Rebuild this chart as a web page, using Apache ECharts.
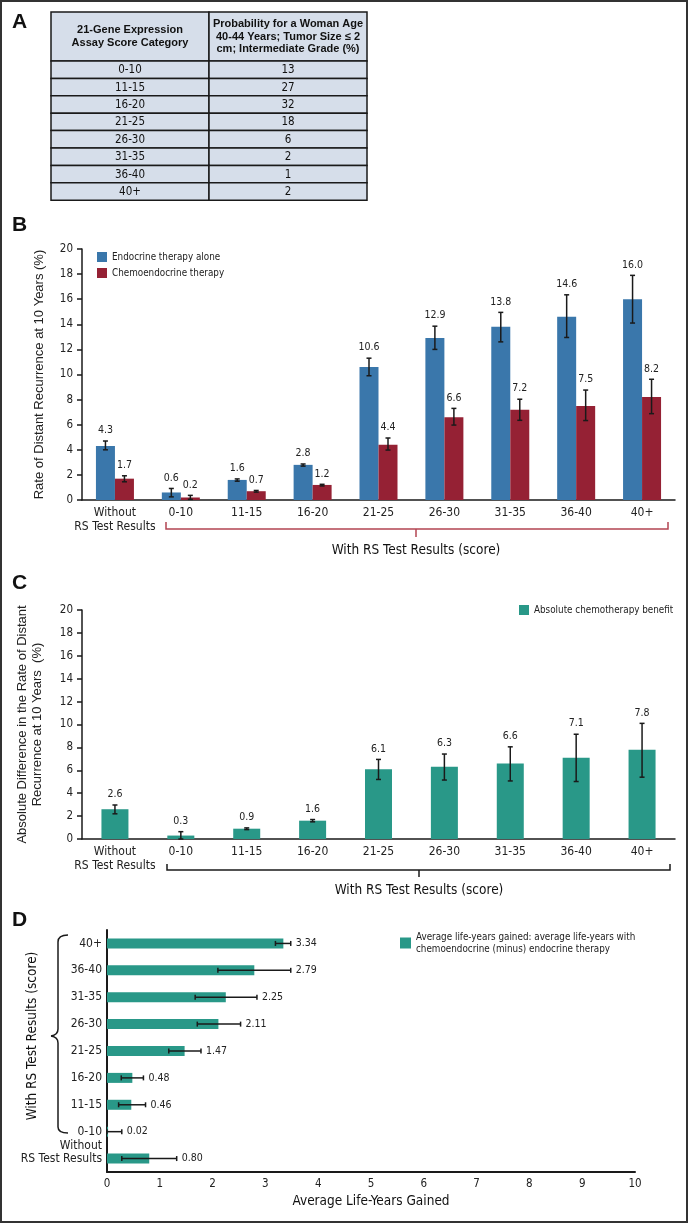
<!DOCTYPE html>
<html><head><meta charset="utf-8">
<script src="https://cdn.jsdelivr.net/npm/echarts@6/dist/echarts.min.js"></script>
<style>html,body{margin:0;padding:0;background:#fff}#c{width:688px;height:1223px}</style>
</head><body><div id="c"></div>
<script>
// ---------- DATA ----------
const tableScoreCategories = ['0-10','11-15','16-20','21-25','26-30','31-35','36-40','40+'];
const tableProbabilities = [13, 27, 32, 18, 6, 2, 1, 2];
const tableHeaderLeft = ['21-Gene Expression', 'Assay Score Category'];
const tableHeaderRight = ['Probability for a Woman Age', '40-44 Years; Tumor Size \u2264 2', 'cm; Intermediate Grade (%)'];

const scoreCategories = ['Without\nRS Test Results','0-10','11-15','16-20','21-25','26-30','31-35','36-40','40+'];

// Panel B
const endocrineRate = [4.3, 0.6, 1.6, 2.8, 10.6, 12.9, 13.8, 14.6, 16.0];
const endocrineLow  = [4.0, 0.25, 1.5, 2.7, 9.9, 12.0, 12.6, 12.95, 14.1];
const endocrineHigh = [4.7, 0.92, 1.68, 2.87, 11.3, 13.85, 14.95, 16.35, 17.9];
const chemoRate = [1.7, 0.2, 0.7, 1.2, 4.4, 6.6, 7.2, 7.5, 8.2];
const chemoLow  = [1.45, 0.05, 0.63, 1.12, 3.98, 5.97, 6.35, 6.33, 6.88];
const chemoHigh = [1.93, 0.37, 0.76, 1.25, 4.94, 7.3, 8.03, 8.76, 9.62];

// Panel C
const benefitRate = [2.6, 0.3, 0.9, 1.6, 6.1, 6.3, 6.6, 7.1, 7.8];
const benefitLow  = [2.2, 0.0, 0.82, 1.5, 5.2, 5.15, 5.07, 5.02, 5.4];
const benefitHigh = [2.97, 0.64, 0.97, 1.7, 6.95, 7.42, 8.05, 9.15, 10.1];

// Panel D (bottom to top)
const lifeYears = [0.80, 0.02, 0.46, 0.48, 1.47, 2.11, 2.25, 2.79, 3.34];
const lifeLow   = [0.28, 0.0, 0.22, 0.27, 1.17, 1.71, 1.67, 2.10, 3.19];
const lifeHigh  = [1.32, 0.28, 0.73, 0.69, 1.78, 2.53, 2.84, 3.48, 3.48];

const seriesNames = {
  endo: 'Endocrine therapy alone',
  chemo: 'Chemoendocrine therapy',
  benefit: 'Absolute chemotherapy benefit',
  life: 'Average life-years gained: average life-years with chemoendocrine (minus) endocrine therapy'
};

// ---------- STYLE ----------
const NARROW = "'DejaVu Sans Condensed','Liberation Sans Narrow',sans-serif";
const SANS = "'Liberation Sans',Arial,Helvetica,sans-serif";
const BLUE = '#3a77ab', RED = '#952134', TEAL = '#299888', INK = '#1a1a1a';
const BRACKET_RED = '#b34452';

const chart = echarts.init(document.getElementById('c'), null, {renderer: 'canvas'});

function errorSeries(name, xi, yi, low, high, vals, offset, horizontal, digits) {
  return {
    type: 'custom', name: name + ' error', xAxisIndex: xi, yAxisIndex: yi, z: 5, silent: true,
    data: vals.map((v, i) => [i, low[i], high[i], v]),
    encode: horizontal ? {x: [1, 2], y: 0} : {x: 0, y: [1, 2]},
    renderItem: function (params, api) {
      const i = api.value(0), lo = api.value(1), hi = api.value(2), v = api.value(3);
      const lw = 1.5, cap = 2.5;
      const txt = v.toFixed(digits);
      if (!horizontal) {
        const pH = api.coord([i, hi]), pL = api.coord([i, lo]);
        const x = pH[0] + offset;
        return {type: 'group', children: [
          {type: 'line', shape: {x1: x, y1: pL[1], x2: x, y2: pH[1]}, style: {stroke: INK, lineWidth: lw}},
          {type: 'line', shape: {x1: x - cap, y1: pH[1], x2: x + cap, y2: pH[1]}, style: {stroke: INK, lineWidth: lw}},
          {type: 'line', shape: {x1: x - cap, y1: pL[1], x2: x + cap, y2: pL[1]}, style: {stroke: INK, lineWidth: lw}},
          {type: 'text', style: {text: txt, x: x, y: pH[1] - 5, align: 'center', verticalAlign: 'bottom',
            fontSize: 10.5, fontFamily: NARROW, fill: '#222'}}
        ]};
      } else {
        const pH = api.coord([hi, i]), pL = api.coord([lo, i]);
        const y = pH[1];
        return {type: 'group', children: [
          {type: 'line', shape: {x1: pL[0], y1: y, x2: pH[0], y2: y}, style: {stroke: INK, lineWidth: lw}},
          {type: 'line', shape: {x1: pH[0], y1: y - cap, x2: pH[0], y2: y + cap}, style: {stroke: INK, lineWidth: lw}},
          {type: 'line', shape: {x1: pL[0], y1: y - cap, x2: pL[0], y2: y + cap}, style: {stroke: INK, lineWidth: lw}},
          {type: 'text', style: {text: txt, x: pH[0] + 5, y: y, align: 'left', verticalAlign: 'middle',
            fontSize: 10.5, fontFamily: NARROW, fill: '#222'}}
        ]};
      }
    }
  };
}

// ---------- TABLE (graphic) ----------
const T = {x0: 51, x1: 209, x2: 367, top: 12, headH: 49, rowH: 17.4};
const tableEls = [];
tableEls.push({type: 'rect', shape: {x: T.x0, y: T.top, width: T.x1 - T.x0, height: T.headH}, style: {fill: '#d6deea', stroke: INK, lineWidth: 1.5}});
tableEls.push({type: 'rect', shape: {x: T.x1, y: T.top, width: T.x2 - T.x1, height: T.headH}, style: {fill: '#d6deea', stroke: INK, lineWidth: 1.5}});
tableHeaderLeft.forEach((t, k) => tableEls.push({type: 'text', style: {text: t, x: (T.x0 + T.x1) / 2, y: T.top + T.headH / 2 + (k - 0.5) * 13,
  align: 'center', verticalAlign: 'middle', fontSize: 11, fontWeight: 'bold', fontFamily: SANS, fill: '#111'}}));
tableHeaderRight.forEach((t, k) => tableEls.push({type: 'text', style: {text: t, x: (T.x1 + T.x2) / 2, y: T.top + T.headH / 2 + (k - 1) * 12.5,
  align: 'center', verticalAlign: 'middle', fontSize: 11, fontWeight: 'bold', fontFamily: SANS, fill: '#111'}}));
tableScoreCategories.forEach((c, i) => {
  const y = T.top + T.headH + i * T.rowH;
  tableEls.push({type: 'rect', shape: {x: T.x0, y: y, width: T.x1 - T.x0, height: T.rowH}, style: {fill: '#d6deea', stroke: INK, lineWidth: 1.5}});
  tableEls.push({type: 'rect', shape: {x: T.x1, y: y, width: T.x2 - T.x1, height: T.rowH}, style: {fill: '#d6deea', stroke: INK, lineWidth: 1.5}});
  tableEls.push({type: 'text', style: {text: c, x: (T.x0 + T.x1) / 2, y: y + T.rowH / 2 + 0.5, align: 'center', verticalAlign: 'middle', fontSize: 11.5, fontFamily: NARROW, fill: '#111'}});
  tableEls.push({type: 'text', style: {text: String(tableProbabilities[i]), x: (T.x1 + T.x2) / 2, y: y + T.rowH / 2 + 0.5, align: 'center', verticalAlign: 'middle', fontSize: 11.5, fontFamily: NARROW, fill: '#111'}});
});

function letter(t, x, y) {
  return {type: 'text', style: {text: t, x: x, y: y, align: 'left', verticalAlign: 'middle', fontSize: 21, fontWeight: 'bold', fontFamily: SANS, fill: '#111'}};
}
function bracket(x1, x2, y, mid, color, up, down) {
  return [
    {type: 'polyline', shape: {points: [[x1, y - up], [x1, y], [x2, y], [x2, y - up]]}, style: {stroke: color, lineWidth: 1.5, fill: null}},
    {type: 'line', shape: {x1: mid, y1: y, x2: mid, y2: y + down}, style: {stroke: color, lineWidth: 1.5}}
  ];
}
const braceStyle = {stroke: INK, lineWidth: 1.5, fill: null};
const brace = [
  {type: 'bezierCurve', shape: {x1: 68, y1: 935, cpx1: 58, cpy1: 935, x2: 58, y2: 942}, style: braceStyle},
  {type: 'line', shape: {x1: 58, y1: 942, x2: 58, y2: 1029}, style: braceStyle},
  {type: 'bezierCurve', shape: {x1: 58, y1: 1029, cpx1: 58, cpy1: 1035, x2: 51, y2: 1036}, style: braceStyle},
  {type: 'bezierCurve', shape: {x1: 51, y1: 1036, cpx1: 58, cpy1: 1037, x2: 58, y2: 1043}, style: braceStyle},
  {type: 'line', shape: {x1: 58, y1: 1043, x2: 58, y2: 1127}, style: braceStyle},
  {type: 'bezierCurve', shape: {x1: 58, y1: 1127, cpx1: 58, cpy1: 1133, x2: 68, y2: 1133}, style: braceStyle}
];

const graphics = [
  {type: 'rect', shape: {x: 1, y: 1, width: 686, height: 1221}, style: {fill: null, stroke: '#333', lineWidth: 2}, z: 100},
  letter('A', 12, 22), letter('B', 12, 225), letter('C', 12, 583), letter('D', 12, 920),
  ...tableEls,
  ...bracket(166, 668, 529, 416, BRACKET_RED, 7, 8),
  {type: 'text', style: {text: 'With RS Test Results (score)', x: 416, y: 550, align: 'center', verticalAlign: 'middle', fontSize: 13.5, fontFamily: NARROW, fill: '#111'}},
  ...bracket(167, 670, 870, 419, INK, 6, 7),
  {type: 'text', style: {text: 'With RS Test Results (score)', x: 419, y: 890, align: 'center', verticalAlign: 'middle', fontSize: 13.5, fontFamily: NARROW, fill: '#111'}},
  ...brace,
  {type: 'text', x: 32, y: 1036, rotation: Math.PI / 2, style: {text: 'With RS Test Results (score)', x: 0, y: 0, align: 'center', verticalAlign: 'middle', fontSize: 13.5, fontFamily: NARROW, fill: '#111'}}
];

const axisLineStyle = {color: INK, width: 1.5};
const catLabel = {fontSize: 12, fontFamily: NARROW, color: '#222', lineHeight: 14, margin: 6, interval: 0};
const valLabel = {fontSize: 11.5, fontFamily: NARROW, color: '#222', margin: 9};
const legendText = {fontSize: 9.8, fontFamily: NARROW, color: '#222'};

const option = {
  animation: false,
  backgroundColor: '#fff',
  grid: [
    {left: 82, right: 13, top: 249, bottom: 1223 - 500},
    {left: 82, right: 13, top: 610, bottom: 1223 - 839},
    {left: 107, right: 53, top: 930, bottom: 1223 - 1172}
  ],
  xAxis: [
    {type: 'category', gridIndex: 0, data: scoreCategories, axisLine: {lineStyle: axisLineStyle}, axisTick: {show: false}, axisLabel: catLabel},
    {type: 'category', gridIndex: 1, data: scoreCategories, axisLine: {lineStyle: axisLineStyle}, axisTick: {show: false}, axisLabel: catLabel},
    {type: 'value', gridIndex: 2, min: 0, max: 10, interval: 1, axisLine: {show: true, lineStyle: {color: INK, width: 2}}, axisTick: {show: false},
      splitLine: {show: false}, axisLabel: {fontSize: 11.5, fontFamily: NARROW, color: '#222', margin: 6},
      name: 'Average Life-Years Gained', nameLocation: 'middle', nameGap: 22,
      nameTextStyle: {fontSize: 13.5, fontFamily: NARROW, color: '#111'}}
  ],
  yAxis: [
    {type: 'value', gridIndex: 0, min: 0, max: 20, interval: 2, axisLine: {show: true, lineStyle: axisLineStyle},
      axisTick: {show: true, length: 5, lineStyle: axisLineStyle}, splitLine: {show: false}, axisLabel: valLabel,
      name: 'Rate of Distant Recurrence at 10 Years (%)', nameLocation: 'middle', nameGap: 36,
      nameTextStyle: {fontSize: 13, fontFamily: SANS, color: '#222'}},
    {type: 'value', gridIndex: 1, min: 0, max: 20, interval: 2, axisLine: {show: true, lineStyle: axisLineStyle},
      axisTick: {show: true, length: 5, lineStyle: axisLineStyle}, splitLine: {show: false}, axisLabel: valLabel,
      name: 'Absolute Difference in the Rate of Distant\nRecurrence at 10 Years  (%)', nameLocation: 'middle', nameGap: 37,
      nameTextStyle: {fontSize: 13, fontFamily: SANS, color: '#222', lineHeight: 15}},
    {type: 'category', gridIndex: 2, data: scoreCategories, axisLine: {lineStyle: {color: INK, width: 2}}, axisTick: {show: false},
      axisLabel: {fontSize: 12, fontFamily: NARROW, color: '#222', margin: 5, lineHeight: 13, interval: 0,
        formatter: v => v.indexOf('\n') >= 0 ? v + '\n\u00a0' : v}}
  ],
  legend: [
    {left: 97, top: 252, padding: 0, orient: 'vertical', itemWidth: 10, itemHeight: 10, itemGap: 6, icon: 'rect',
      data: [seriesNames.endo, seriesNames.chemo], textStyle: legendText, selectedMode: false},
    {left: 519, top: 605, padding: 0, itemWidth: 10, itemHeight: 10, icon: 'rect',
      data: [seriesNames.benefit], textStyle: legendText, selectedMode: false},
    {left: 400, top: 931, padding: 0, itemWidth: 11, itemHeight: 11, icon: 'rect',
      data: [seriesNames.life], formatter: n => n.replace(' chemoendocrine', '\nchemoendocrine'),
      textStyle: Object.assign({lineHeight: 12}, legendText), selectedMode: false}
  ],
  series: [
    {type: 'bar', name: seriesNames.endo, xAxisIndex: 0, yAxisIndex: 0, data: endocrineRate, barWidth: 19, barGap: '0%', itemStyle: {color: BLUE}},
    {type: 'bar', name: seriesNames.chemo, xAxisIndex: 0, yAxisIndex: 0, data: chemoRate, barWidth: 19, barGap: '0%', itemStyle: {color: RED}},
    errorSeries(seriesNames.endo, 0, 0, endocrineLow, endocrineHigh, endocrineRate, -9.5, false, 1),
    errorSeries(seriesNames.chemo, 0, 0, chemoLow, chemoHigh, chemoRate, 9.5, false, 1),
    {type: 'bar', name: seriesNames.benefit, xAxisIndex: 1, yAxisIndex: 1, data: benefitRate, barWidth: 27, itemStyle: {color: TEAL}},
    errorSeries(seriesNames.benefit, 1, 1, benefitLow, benefitHigh, benefitRate, 0, false, 1),
    {type: 'bar', name: seriesNames.life, xAxisIndex: 2, yAxisIndex: 2, data: lifeYears, barWidth: 10, itemStyle: {color: TEAL}},
    errorSeries(seriesNames.life, 2, 2, lifeLow, lifeHigh, lifeYears, 0, true, 2)
  ],
  graphic: graphics
};
chart.setOption(option);
</script></body></html>
